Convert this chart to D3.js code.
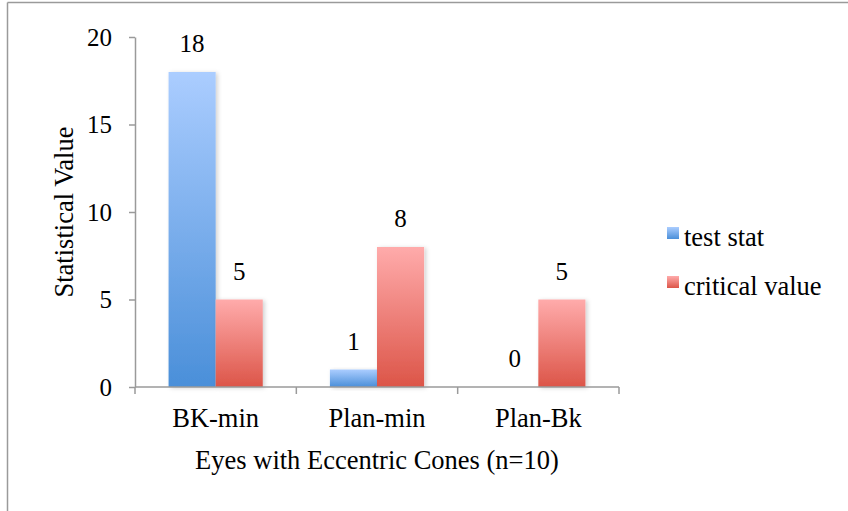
<!DOCTYPE html>
<html>
<head>
<meta charset="utf-8">
<script src="https://cdn.jsdelivr.net/npm/d3@7"></script>
<style>
  html, body { margin: 0; padding: 0; background: #fff; }
  svg { display: block; }
</style>
</head>
<body>
<script>
// Chart data
const categories = ["BK-min", "Plan-min", "Plan-Bk"];
const seriesNames = ["test stat", "critical value"];
const testStat = [18, 1, 0];
const criticalValue = [5, 8, 5];
const yTicks = [0, 5, 10, 15, 20];

const W = 848, H = 511;
const FONT = "'Liberation Serif', 'Times New Roman', Times, serif";
const FS_NUM = 25;   // tick and value labels
const FS_TXT = 26.5; // category labels, titles, legend
const x0Range = [135, 619];
const yRange = [387, 37];

const svg = d3.select("body").append("svg")
  .attr("width", W).attr("height", H);

const defs = svg.append("defs");

// Vertical gradients for each series
const grads = [
  { id: "gBlue", top: "#abcdff", bottom: "#4a8fd9" },
  { id: "gRed", top: "#ffabab", bottom: "#dc5548" }
];
grads.forEach(g => {
  const lg = defs.append("linearGradient").attr("id", g.id)
    .attr("x1", 0).attr("y1", 0).attr("x2", 0).attr("y2", 1);
  lg.append("stop").attr("offset", "0%").attr("stop-color", g.top);
  lg.append("stop").attr("offset", "100%").attr("stop-color", g.bottom);
});

const shadow = defs.append("filter").attr("id", "barShadow")
  .attr("x", "-20%").attr("y", "-10%").attr("width", "150%").attr("height", "130%");
shadow.append("feDropShadow").attr("dx", 2).attr("dy", 1)
  .attr("stdDeviation", 2).attr("flood-color", "#000").attr("flood-opacity", 0.18);

// Outer frame (top and left edges visible)
svg.append("line").attr("x1", 7.5).attr("x2", W).attr("y1", 2.5).attr("y2", 2.5)
  .attr("stroke", "#9a9a9a").attr("stroke-width", 1.5);
svg.append("line").attr("x1", 7.5).attr("x2", 7.5).attr("y1", 2.5).attr("y2", H)
  .attr("stroke", "#9a9a9a").attr("stroke-width", 1.5);

// Scales
const x0 = d3.scaleBand().domain(categories).range(x0Range).paddingInner(0).paddingOuter(0);
const x1 = d3.scaleBand().domain(seriesNames).range([0, x0.bandwidth()])
  .paddingInner(0).paddingOuter(0.713);
const y = d3.scaleLinear().domain([0, 20]).range(yRange);

const rows = categories.map((c, i) => ({
  cat: c,
  vals: [
    { s: seriesNames[0], v: testStat[i], fill: "url(#gBlue)" },
    { s: seriesNames[1], v: criticalValue[i], fill: "url(#gRed)" }
  ]
}));

// Bars
const groups = svg.append("g").selectAll("g").data(rows).join("g")
  .attr("transform", d => `translate(${x0(d.cat)},0)`);

groups.selectAll("rect").data(d => d.vals.filter(v => v.v > 0)).join("rect")
  .attr("x", d => x1(d.s))
  .attr("y", d => y(d.v))
  .attr("width", x1.bandwidth())
  .attr("height", d => y(0) - y(d.v))
  .attr("fill", d => d.fill)
  .attr("filter", "url(#barShadow)");

// Value labels
groups.selectAll("text.val").data(d => d.vals).join("text")
  .attr("class", "val")
  .attr("x", d => x1(d.s) + x1.bandwidth() / 2)
  .attr("y", d => y(d.v) - 20)
  .attr("text-anchor", "middle")
  .style("font-family", FONT).style("font-size", FS_NUM + "px")
  .text(d => d.v);

// Y axis
const yAxis = svg.append("g").attr("transform", `translate(${x0Range[0]},0)`)
  .call(d3.axisLeft(y).tickValues(yTicks).tickSizeInner(6).tickSizeOuter(0).tickPadding(17));
yAxis.select(".domain").attr("stroke", "#9a9a9a").attr("stroke-width", 1.5);
yAxis.selectAll(".tick line").attr("stroke", "#9a9a9a").attr("stroke-width", 1.5);
yAxis.selectAll(".tick text")
  .style("font-family", FONT).style("font-size", FS_NUM + "px").attr("fill", "#000");

// X axis: baseline with boundary ticks
const xAxis = svg.append("g");
xAxis.append("line").attr("x1", x0Range[0]).attr("x2", x0Range[1])
  .attr("y1", y(0)).attr("y2", y(0)).attr("stroke", "#9a9a9a").attr("stroke-width", 1.5);
const boundaries = categories.map(c => x0(c)).concat([x0Range[1]]);
xAxis.selectAll("line.tick").data(boundaries).join("line").attr("class", "tick")
  .attr("x1", d => d).attr("x2", d => d)
  .attr("y1", y(0)).attr("y2", y(0) + 7)
  .attr("stroke", "#9a9a9a").attr("stroke-width", 1.5);
xAxis.selectAll("text").data(categories).join("text")
  .attr("x", d => x0(d) + x0.bandwidth() / 2)
  .attr("y", 427)
  .attr("text-anchor", "middle")
  .style("font-family", FONT).style("font-size", FS_TXT + "px")
  .text(d => d);

// Axis titles
svg.append("text")
  .attr("x", (x0Range[0] + x0Range[1]) / 2).attr("y", 469)
  .attr("text-anchor", "middle")
  .style("font-family", FONT).style("font-size", FS_TXT + "px")
  .text("Eyes with Eccentric Cones (n=10)");

svg.append("text")
  .attr("transform", `translate(73,${(yRange[0] + yRange[1]) / 2}) rotate(-90)`)
  .attr("text-anchor", "middle")
  .style("font-family", FONT).style("font-size", FS_TXT + "px")
  .text("Statistical Value");

// Legend
const legend = svg.append("g").attr("transform", "translate(667,227)");
const legItems = legend.selectAll("g").data(seriesNames).join("g")
  .attr("transform", (d, i) => `translate(0,${i * 49})`);
legItems.append("rect").attr("width", 12).attr("height", 12)
  .attr("fill", (d, i) => i === 0 ? "url(#gBlue)" : "url(#gRed)");
legItems.append("text").attr("x", 17).attr("y", 19)
  .style("font-family", FONT).style("font-size", FS_TXT + "px")
  .text(d => d);
</script>
</body>
</html>
